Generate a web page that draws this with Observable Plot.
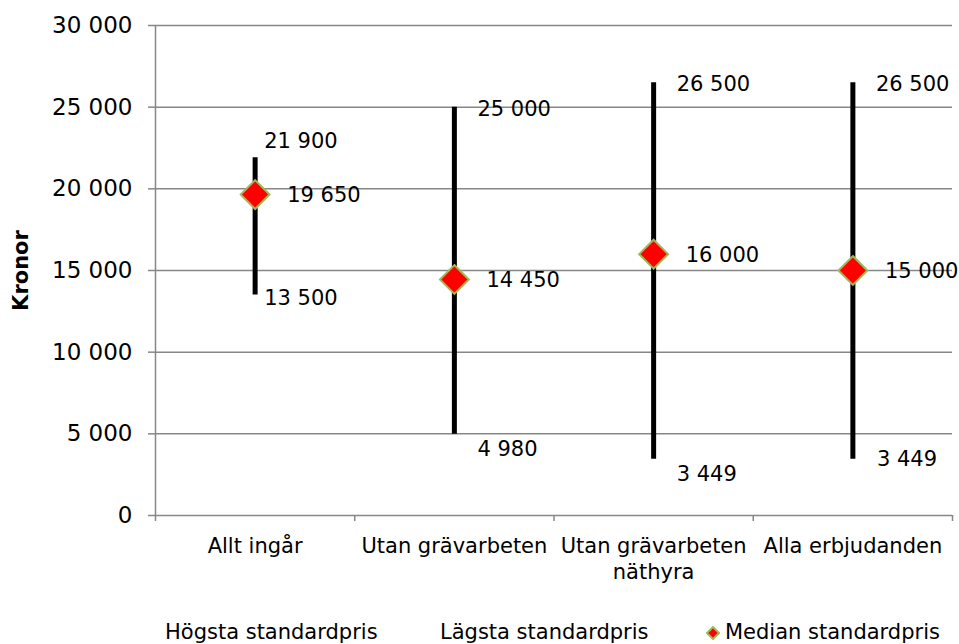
<!DOCTYPE html>
<html><head><meta charset="utf-8">
<script src="https://cdn.jsdelivr.net/npm/d3@7"></script>
<script src="https://cdn.jsdelivr.net/npm/@observablehq/plot@0.6"></script>
<style>
body{margin:0;background:#fff;font-family:"DejaVu Sans",Verdana,sans-serif;}
#wrap{position:relative;width:959px;height:644px;overflow:hidden;}
#legend{position:absolute;left:0;top:620px;width:959px;height:24px;font-size:21px;line-height:24px;color:#000;}
#legend span{position:absolute;top:0;white-space:nowrap;}
</style></head><body>
<div id="wrap"><div id="chart"></div><div id="legend"></div></div>
<script>
const categories = ["Allt ingår", "Utan grävarbeten", "Utan grävarbeten\nnäthyra", "Alla erbjudanden"];
const highValues = [21900, 25000, 26500, 26500];
const lowValues = [13500, 4980, 3449, 3449];
const medianValues = [19650, 14450, 16000, 15000];
const yTicks = [0, 5000, 10000, 15000, 20000, 25000, 30000];
const yLabel = "Kronor";
const legendLabels = ["Högsta standardpris", "Lägsta standardpris", "Median standardpris"];

const fmt = d => d3.format(",")(d).replace(/,/g, " ");
const idx = categories.map((_, i) => i);
const cx = i => i + 0.5;
const grid = "#878787";
const font = "DejaVu Sans, Verdana, sans-serif";

const chart = Plot.plot({
  width: 959,
  height: 600,
  marginTop: 25,
  marginBottom: 85,
  marginLeft: 155,
  marginRight: 7,
  style: {fontFamily: font, background: "#fff", color: "#000"},
  x: {type: "linear", domain: [0, categories.length], axis: null},
  y: {domain: [0, 30000], axis: null},
  marks: [
    Plot.gridY(yTicks, {stroke: grid, strokeOpacity: 1, strokeWidth: 1.5}),
    Plot.axisY(yTicks, {tickSize: 7, tickPadding: 16, tickFormat: fmt, fontSize: 23, stroke: grid, strokeWidth: 1.5, label: null}),
    Plot.ruleX([0], {stroke: grid, strokeWidth: 1.5}),
    Plot.axisX([0, 1, 2, 3, 4], {tickSize: 6, tickFormat: () => "", stroke: grid, strokeWidth: 1.5, label: null}),
    Plot.text(idx, {x: cx, text: i => categories[i], frameAnchor: "bottom", lineAnchor: "top", dy: 20, fontSize: 21, lineHeight: 1.2, fill: "#000"}),
    Plot.text([yLabel], {frameAnchor: "left", textAnchor: "middle", lineAnchor: "middle", rotate: -90, dx: -134, fontSize: 21, fontWeight: "bold", fill: "#000"}),
    Plot.ruleX(idx, {x: cx, y1: i => lowValues[i], y2: i => highValues[i], stroke: "#000", strokeWidth: 5}),
    Plot.dot(idx, {x: cx, y: i => medianValues[i], symbol: "diamond2", r: 13, fill: "#ff0000", stroke: "#9bbb59", strokeWidth: 2}),
    // median labels
    Plot.text(idx, {x: cx, y: i => medianValues[i], text: i => fmt(medianValues[i]), textAnchor: "start", dx: 32, dy: 1, fontSize: 21, fill: "#000"}),
    // high labels
    Plot.text(idx, {filter: i => i === 0, x: cx, y: i => highValues[i], text: i => fmt(highValues[i]), textAnchor: "start", dx: 9, dy: -17, fontSize: 21, fill: "#000"}),
    Plot.text(idx, {filter: i => i > 0, x: cx, y: i => highValues[i], text: i => fmt(highValues[i]), textAnchor: "start", dx: 23, dy: 2, fontSize: 21, fill: "#000"}),
    // low labels
    Plot.text(idx, {filter: i => i === 0, x: cx, y: i => lowValues[i], text: i => fmt(lowValues[i]), textAnchor: "start", dx: 9, dy: 3, fontSize: 21, fill: "#000"}),
    Plot.text(idx, {filter: i => i === 1 || i === 2, x: cx, y: i => lowValues[i], text: i => fmt(lowValues[i]), textAnchor: "start", dx: 23, dy: 15, fontSize: 21, fill: "#000"}),
    Plot.text(idx, {filter: i => i === 3, x: cx, y: i => lowValues[i], text: i => fmt(lowValues[i]), textAnchor: "start", dx: 24, dy: 0, fontSize: 21, fill: "#000"})
  ]
});
document.getElementById("chart").appendChild(chart);

const legend = document.getElementById("legend");
const lefts = [165, 440, 725];
legendLabels.forEach((t, i) => {
  const s = document.createElement("span");
  s.textContent = t;
  s.style.left = lefts[i] + "px";
  legend.appendChild(s);
});
const sym = document.createElement("span");
sym.style.left = "706px";
sym.style.top = "6px";
sym.innerHTML = '<svg width="14" height="14" style="display:block"><polygon points="7,1 13,7 7,13 1,7" fill="#ff0000" stroke="#9bbb59" stroke-width="2"/></svg>';
legend.appendChild(sym);
</script>
</body></html>
